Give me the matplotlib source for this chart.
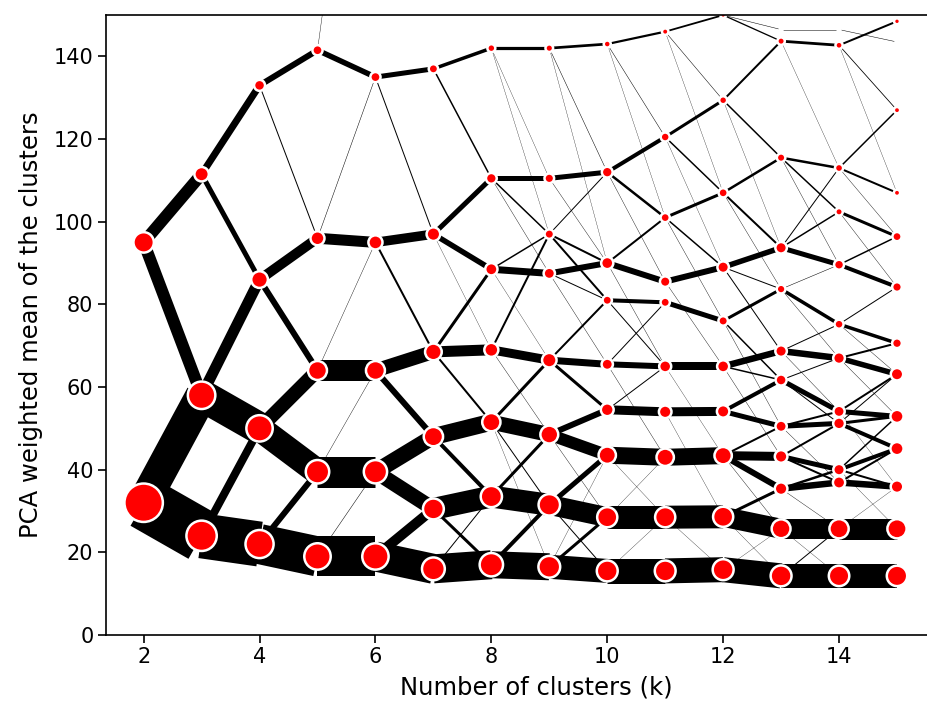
import matplotlib
matplotlib.use("Agg")
import matplotlib.pyplot as plt
from collections import defaultdict

#%% data: links between clusters at k and k+1 -> (mean at k, mean at k+1, count)
OFF = 245  # small outlier cluster above the visible range

links_2 = [(32, 24, 53), (32, 58, 32), (95, 58, 12), (95, 111.5, 12)]
links_3 = [(24, 22, 45), (24, 50, 8), (58, 50, 32), (58, 86, 11),
           (111.5, 86, 5), (111.5, 133, 7)]
links_4 = [(22, 19, 40), (22, 39.5, 6), (50, 39.5, 26), (50, 64, 14),
           (86, 64, 6), (86, 96, 10), (133, 96, 1), (133, 141.5, 6)]
links_5 = [(19, 19, 40), (19, 39.5, 0.5), (39.5, 39.5, 31), (39.5, 64, 0.4),
           (64, 64, 21), (64, 95, 0.4), (96, 95, 11), (96, 135, 0.5),
           (141.5, 135, 5.5), (141.5, OFF, 0.4)]
links_6 = [(19, 16, 30), (19, 30.5, 10), (39.5, 30.5, 15), (39.5, 48, 16),
           (64, 48, 6), (64, 68.5, 14), (95, 97, 9.5), (95, 68.5, 2),
           (135, 137, 5), (135, 97, 1), (OFF, OFF, 0.4)]
links_7 = [(16, 17, 29), (16, 33.5, 1), (30.5, 33.5, 22), (30.5, 17, 3),
           (48, 51.5, 17), (48, 33.5, 4), (68.5, 69, 11), (68.5, 51.5, 2),
           (68.5, 88.5, 3), (97, 110.5, 5), (97, 88.5, 5.5), (97, 69, 0.3),
           (137, 142, 3.5), (137, 110.5, 1.5), (OFF, OFF, 0.4)]
links_8 = [(17, 16.5, 27), (17, 31.5, 4), (33.5, 31.5, 22), (33.5, 48.5, 3),
           (51.5, 48.5, 15), (51.5, 31.5, 1), (51.5, 66.5, 3), (51.5, 16.5, 0.3),
           (69, 66.5, 9), (69, 97, 2), (69, 48.5, 0.4), (88.5, 87.5, 7),
           (88.5, 97, 1.5), (88.5, 66.5, 0.3), (110.5, 110.5, 5), (110.5, 97, 1.5),
           (110.5, 87.5, 0.4), (142, 142, 3.2), (142, 97, 0.3), (142, 110.5, 0.3),
           (OFF, OFF, 0.4)]
links_9 = [(16.5, 15.5, 24), (16.5, 28.5, 3), (16.5, 43.5, 0.3), (31.5, 28.5, 20),
           (31.5, 43.5, 5), (31.5, 15.5, 1), (48.5, 43.5, 12), (48.5, 54.5, 6),
           (48.5, 28.5, 0.4), (66.5, 65.5, 7), (66.5, 54.5, 3), (66.5, 81, 2),
           (87.5, 90, 6), (87.5, 81, 1), (87.5, 65.5, 0.4), (97, 90, 2), (97, 81, 2),
           (97, 112, 1), (110.5, 112, 5), (110.5, 90, 0.4), (142, 143, 2.7),
           (142, 112, 0.5), (142, 90, 0.3), (OFF, OFF, 0.4)]
links_10 = [(15.5, 15.5, 25), (15.5, 28.5, 0.3), (28.5, 28.5, 23), (28.5, 43, 0.3),
            (43.5, 43, 17), (43.5, 28.5, 0.3), (54.5, 54, 9), (54.5, 65, 1),
            (65.5, 65, 6), (65.5, 80.5, 1), (65.5, 43, 0.4), (81, 80.5, 4),
            (81, 65, 1), (90, 85.5, 6), (90, 101, 2), (90, 65, 0.4),
            (112, 101, 2.5), (112, 120.5, 4), (112, 85.5, 0.4), (143, 146, 2.2),
            (143, 120.5, 0.5), (143, 101, 0.3), (OFF, OFF, 0.4)]
links_11 = [(15.5, 15.8, 25), (28.5, 28.6, 23), (28.5, 15.8, 0.3), (43, 43.4, 17),
            (54, 54.1, 9), (54, 28.6, 0.3), (65, 65, 8), (65, 43.4, 0.3),
            (80.5, 76, 5), (85.5, 89, 6), (85.5, 65, 0.4), (101, 107, 3),
            (101, 89, 1.5), (101, 76, 0.4), (120.5, 129.4, 3), (120.5, 107, 1.5),
            (120.5, 89, 0.3), (146, 150, 1.8), (146, 129.4, 0.5), (146, 107, 0.3),
            (OFF, OFF, 0.4)]
links_12 = [(15.8, 14.3, 25), (15.8, 25.7, 0.3), (28.6, 25.7, 20), (28.6, 35.4, 3),
            (28.6, 14.3, 0.3), (43.4, 43.2, 9), (43.4, 35.4, 6), (43.4, 50.5, 2),
            (43.4, 25.7, 0.4), (54.1, 50.5, 5), (54.1, 61.7, 4), (65, 68.7, 6.5),
            (65, 61.7, 1.5), (65, 43.2, 0.4), (76, 83.7, 3), (76, 61.7, 1.5),
            (76, 50.5, 0.4), (89, 93.7, 5.5), (89, 83.7, 1), (89, 68.7, 1),
            (107, 115.5, 2.5), (107, 93.7, 2), (107, 83.7, 0.4), (129.4, 143.7, 2),
            (129.4, 115.5, 1.5), (129.4, 93.7, 0.3), (150, 143.7, 1.3),
            (150, 146.5, 0.5), (OFF, OFF, 0.4)]
links_13 = [(14.3, 14.3, 24), (14.3, 25.7, 1), (25.7, 25.7, 20), (25.7, 14.3, 0.3),
            (35.4, 36.9, 6.5), (35.4, 40, 2.5), (35.4, 25.7, 0.4), (43.2, 40, 5),
            (43.2, 36.9, 2), (43.2, 51.2, 2), (50.5, 51.2, 5), (50.5, 54.1, 2),
            (50.5, 36.9, 0.4), (61.7, 54.1, 5), (61.7, 51.2, 1), (61.7, 67, 1),
            (68.7, 67, 6.5), (68.7, 75.2, 1), (68.7, 54.1, 0.4), (83.7, 75.2, 3.5),
            (83.7, 89.6, 0.5), (83.7, 67, 0.4), (93.7, 89.6, 5), (93.7, 102.4, 1.5),
            (93.7, 113, 1), (115.5, 113, 2.5), (115.5, 102.4, 1.5), (115.5, 89.6, 0.4),
            (143.7, 142.7, 2.8), (143.7, 113, 0.3), (146.5, 146.5, 0.5),
            (OFF, OFF, 0.4)]
links_14 = [(14.3, 14.3, 24), (25.7, 25.7, 21), (25.7, 35.9, 0.3), (36.9, 35.9, 6.5),
            (36.9, 45.1, 2), (40, 45.1, 4), (40, 35.9, 2), (40, 52.9, 1.5),
            (40, 25.7, 0.3), (51.2, 45.1, 4), (51.2, 52.9, 3), (51.2, 63.1, 1),
            (54.1, 52.9, 5), (54.1, 63.1, 2), (54.1, 35.9, 0.3), (67, 63.1, 5.5),
            (67, 70.6, 2), (67, 52.9, 0.4), (75.2, 70.6, 3.5), (75.2, 84.2, 1),
            (75.2, 63.1, 0.4), (89.6, 84.2, 4), (89.6, 96.4, 1.5), (102.4, 96.4, 3),
            (102.4, 84.2, 0.4), (113, 107, 2), (113, 127, 1.5), (113, 96.4, 0.4),
            (142.7, 148.5, 2), (142.7, 127, 0.8), (142.7, 107, 0.3),
            (146.5, 143.5, 0.5), (OFF, OFF, 0.4)]

links = [links_2, links_3, links_4, links_5, links_6, links_7, links_8,
         links_9, links_10, links_11, links_12, links_13, links_14]
k_first = 2

LW_SCALE = 0.72   # line width (pt) per sample
S_SCALE = 9.0     # marker area (pt^2) per sample

#%% cluster sizes from the links
n_out = defaultdict(float)
n_in = defaultdict(float)
for i, lk in enumerate(links):
    k = k_first + i
    for y0, y1, n in lk:
        n_out[(k, y0)] += n
        n_in[(k + 1, y1)] += n

nodes = {}
for key in set(n_out) | set(n_in):
    vals = [d[key] for d in (n_out, n_in) if key in d]
    nodes[key] = sum(vals) / len(vals)

#%% plot
fig = plt.figure(figsize=(9.28, 7.06), dpi=100)
# the right part of the axes runs past the picture edge (cropped figure)
ax = fig.add_axes([0.1142, 0.1006, 0.9267, 0.878])

for i, lk in enumerate(links):
    k = k_first + i
    for y0, y1, n in lk:
        ax.plot([k, k + 1], [y0, y1], color="k", lw=n * LW_SCALE,
                solid_capstyle="butt", zorder=1)

xs = [key[0] for key in nodes]
ys = [key[1] for key in nodes]
ss = [nodes[key] * S_SCALE for key in nodes]
ax.scatter(xs, ys, s=ss, color="r", edgecolor="w", linewidth=1.8, zorder=2)

ax.set_xlim(1.35, 16.19)
ax.set_ylim(0, 150)
ax.set_xticks([2, 4, 6, 8, 10, 12, 14])
ax.tick_params(length=5.5, width=1.2, labelsize=15)
for sp in ax.spines.values():
    sp.set_linewidth(1.2)
ax.set_xlabel("Number of clusters (k)", fontsize=17.5, labelpad=6)
ax.set_ylabel("PCA weighted mean of the clusters", fontsize=17.5, labelpad=8)

fig.savefig("out.png", dpi=100)
